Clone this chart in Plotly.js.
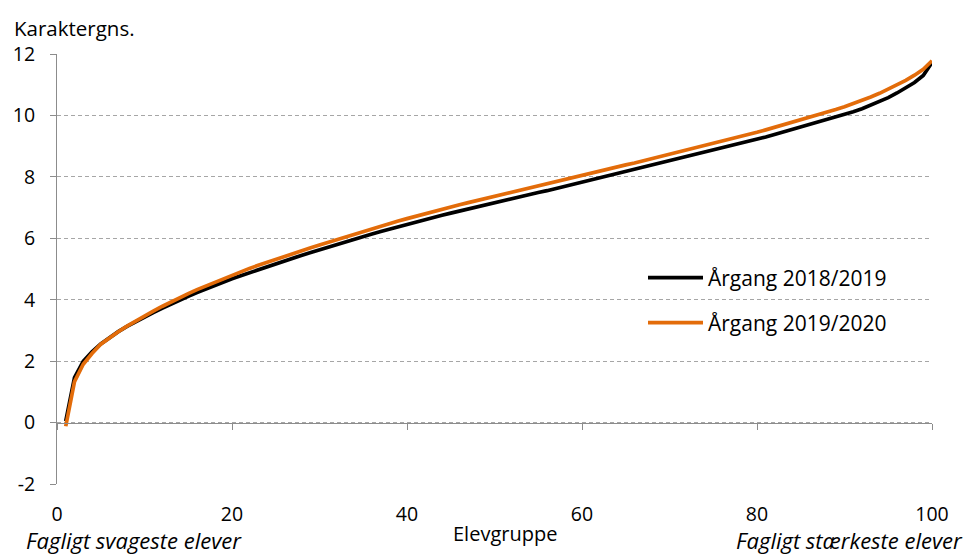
<!DOCTYPE html>
<html>
<head>
<meta charset="utf-8">
<script src="https://cdn.plot.ly/plotly-3.0.1.min.js"></script>
<style>html,body{margin:0;padding:0;background:#fff;}#chart{width:965px;height:556px;}</style>
</head>
<body>
<div id="chart"></div>
<script>
// Elevgruppe 1..100
const elevgruppe = [];
for (let i = 1; i <= 100; i++) elevgruppe.push(i);

const aargang2018 = [
  0.05, 1.46, 1.99, 2.30, 2.56, 2.77, 2.96, 3.13, 3.29, 3.44,
  3.58, 3.72, 3.86, 3.99, 4.11, 4.23, 4.35, 4.46, 4.57, 4.68,
  4.78, 4.88, 4.98, 5.08, 5.18, 5.27, 5.36, 5.45, 5.54, 5.63,
  5.72, 5.81, 5.89, 5.98, 6.06, 6.14, 6.22, 6.30, 6.38, 6.46,
  6.53, 6.61, 6.68, 6.75, 6.82, 6.89, 6.95, 7.02, 7.09, 7.15,
  7.22, 7.29, 7.35, 7.42, 7.49, 7.55, 7.62, 7.69, 7.75, 7.82,
  7.89, 7.95, 8.02, 8.09, 8.15, 8.22, 8.29, 8.36, 8.43, 8.50,
  8.57, 8.64, 8.71, 8.78, 8.85, 8.92, 8.99, 9.07, 9.14, 9.22,
  9.30, 9.38, 9.46, 9.54, 9.63, 9.71, 9.79, 9.87, 9.95, 10.03,
  10.12, 10.22, 10.33, 10.45, 10.58, 10.73, 10.89, 11.07, 11.30, 11.73
];

const aargang2019 = [
  -0.12, 1.33, 1.90, 2.25, 2.55, 2.76, 2.96, 3.14, 3.31, 3.47,
  3.63, 3.78, 3.93, 4.07, 4.20, 4.33, 4.45, 4.57, 4.69, 4.80,
  4.91, 5.02, 5.12, 5.22, 5.32, 5.42, 5.51, 5.60, 5.69, 5.78,
  5.87, 5.96, 6.05, 6.14, 6.22, 6.31, 6.40, 6.48, 6.56, 6.64,
  6.72, 6.80, 6.87, 6.95, 7.02, 7.09, 7.16, 7.23, 7.30, 7.37,
  7.44, 7.51, 7.57, 7.64, 7.71, 7.78, 7.85, 7.92, 7.99, 8.06,
  8.12, 8.19, 8.26, 8.32, 8.39, 8.45, 8.52, 8.59, 8.65, 8.72,
  8.79, 8.86, 8.94, 9.01, 9.08, 9.16, 9.23, 9.30, 9.38, 9.45,
  9.53, 9.61, 9.70, 9.78, 9.87, 9.95, 10.03, 10.11, 10.19, 10.28,
  10.38, 10.48, 10.60, 10.72, 10.85, 10.99, 11.14, 11.31, 11.50, 11.78
];

const seriesNames = ['Årgang 2018/2019', 'Årgang 2019/2020'];
const xTicks = [0, 20, 40, 60, 80, 100];
const yTicks = [-2, 0, 2, 4, 6, 8, 10, 12];

const FONT = '"Open Sans", "Noto Sans", sans-serif';
const FS = 19.5;
const GRID = '#A6A6A6';
const AXIS = '#8C8C8C';

const traces = [
  {x: elevgruppe, y: aargang2018, type: 'scatter', mode: 'lines', name: seriesNames[0],
   line: {color: '#000000', width: 3.7}, legend: 'legend', hoverinfo: 'skip'},
  {x: elevgruppe, y: aargang2019, type: 'scatter', mode: 'lines', name: seriesNames[1],
   line: {color: '#E36C0A', width: 3.7}, legend: 'legend2', hoverinfo: 'skip'},
  {x: [null], y: [null], xaxis: 'x2', yaxis: 'y', mode: 'lines', showlegend: false, hoverinfo: 'skip'}
];

const legendCommon = {xanchor: 'left', yanchor: 'middle', itemwidth: 55,
  bgcolor: 'rgba(0,0,0,0)', font: {family: FONT, size: 21, color: '#000'}};

const layout = {
  width: 965, height: 556,
  margin: {l: 57, r: 33, t: 54, b: 72, pad: 0},
  paper_bgcolor: '#ffffff', plot_bgcolor: '#ffffff',
  font: {family: FONT, size: FS, color: '#000'},
  showlegend: true,
  xaxis: {
    range: [0, 100], tickvals: xTicks, ticktext: xTicks.map(String),
    showgrid: false, zeroline: false, showline: false, ticks: '',
    tickfont: {family: FONT, size: FS, color: '#000'},
    ticklabelstandoff: 16
  },
  xaxis2: {
    range: [0, 100], overlaying: 'x', anchor: 'free', position: 2 / 14, side: 'bottom',
    tickvals: xTicks, showticklabels: false, ticks: 'outside', ticklen: 6, tickcolor: AXIS,
    showline: true, linecolor: AXIS, linewidth: 1, showgrid: false, zeroline: false
  },
  yaxis: {
    range: [-2, 12], tickvals: yTicks, ticktext: yTicks.map(String),
    showgrid: true, gridcolor: GRID, griddash: '4px,3px', gridwidth: 1,
    zeroline: false, showline: true, linecolor: AXIS, linewidth: 1,
    ticks: 'outside', ticklen: 6, tickcolor: AXIS, ticklabelstandoff: 11,
    tickfont: {family: FONT, size: FS, color: '#000'}
  },
  legend: Object.assign({x: (643 - 57) / 875, y: (484 - 278) / 430}, legendCommon),
  legend2: Object.assign({x: (643 - 57) / 875, y: (484 - 323) / 430}, legendCommon),
  annotations: [
    {text: 'Karaktergns.', xref: 'paper', yref: 'paper', x: (12 - 57) / 875, y: 1 + (54 - 28) / 430,
     xanchor: 'left', yanchor: 'middle', showarrow: false, font: {family: FONT, size: 20.5, color: '#000'}},
    {text: 'Elevgruppe', xref: 'paper', yref: 'paper', x: (505 - 57) / 875, y: -(533 - 484) / 430,
     xanchor: 'center', yanchor: 'middle', showarrow: false, font: {family: FONT, size: 20, color: '#000'}},
    {text: '<i>Fagligt svageste elever</i>', xref: 'paper', yref: 'paper', x: (24 - 57) / 875, y: -(540 - 484) / 430,
     xanchor: 'left', yanchor: 'middle', showarrow: false, font: {family: FONT, size: 22, color: '#000'}},
    {text: '<i>Fagligt stærkeste elever</i>', xref: 'paper', yref: 'paper', x: (965 - 57) / 875, y: -(540 - 484) / 430,
     xanchor: 'right', yanchor: 'middle', showarrow: false, font: {family: FONT, size: 22, color: '#000'}}
  ]
};

Plotly.newPlot('chart', traces, layout, {displayModeBar: false, staticPlot: true});
</script>
</body>
</html>
